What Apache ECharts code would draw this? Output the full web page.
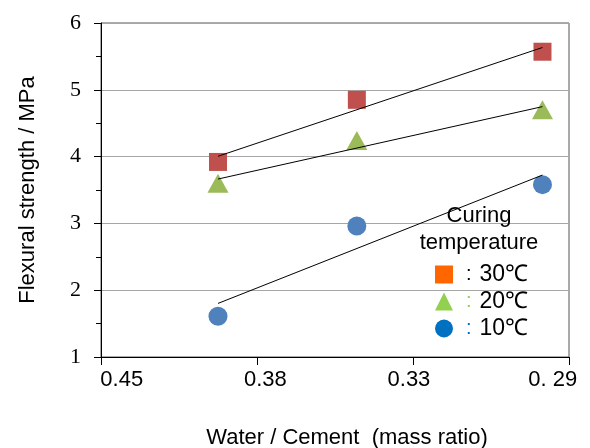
<!DOCTYPE html>
<html>
<head>
<meta charset="utf-8">
<script src="https://cdn.jsdelivr.net/npm/echarts@6/dist/echarts.min.js"></script>
<style>html,body{margin:0;padding:0;background:#fff}#c{width:590px;height:448px}</style>
</head>
<body>
<div id="c"></div>
<script>
// Data
const xTickLabels = ['0.45', '0.38', '0.33', '0. 29'];
const xPos = [0.75, 1.64, 2.83];          // position of the three mixes on the axis (tick units)
const temps = ['30℃', '20℃', '10℃'];
const strength30 = [3.92, 4.85, 5.57];
const strength20 = [3.60, 4.24, 4.70];
const strength10 = [1.61, 2.96, 3.58];

const labelPos = [0.133, 1.054, 1.974, 2.896];
const SANS = 'Liberation Sans, Arial, sans-serif';

function fit(xs, ys) {
  const n = xs.length;
  const mx = xs.reduce((a, b) => a + b, 0) / n;
  const my = ys.reduce((a, b) => a + b, 0) / n;
  let sxy = 0, sxx = 0;
  for (let i = 0; i < n; i++) { sxy += (xs[i] - mx) * (ys[i] - my); sxx += (xs[i] - mx) ** 2; }
  const b = sxy / sxx, a = my - b * mx;
  const x0 = Math.min(...xs), x1 = Math.max(...xs);
  return [[x0, a + b * x0], [x1, a + b * x1]];
}
const pts = ys => xPos.map((x, i) => [x, ys[i]]);

const chart = echarts.init(document.getElementById('c'), null, { renderer: 'canvas' });
const markerSeries = [
  { name: temps[0], symbol: 'rect', symbolSize: 18, color: '#C0504D', data: strength30 },
  { name: temps[1], symbol: 'triangle', symbolSize: [21, 19], color: '#9BBB59', data: strength20 },
  { name: temps[2], symbol: 'circle', symbolSize: 19, color: '#4F81BD', data: strength10 }
];
const series = [];
markerSeries.forEach(s => {
  series.push({
    type: 'scatter', name: s.name, symbol: s.symbol, symbolSize: s.symbolSize,
    itemStyle: { color: s.color, opacity: 1 }, data: pts(s.data), z: 2, silent: true
  });
});
markerSeries.forEach((s, i) => {
  series.push({
    type: 'line', name: 'trend' + i, data: fit(xPos, s.data), showSymbol: false, symbol: 'none',
    lineStyle: { color: '#000', width: 1 }, z: 3, silent: true, animation: false
  });
});

const legendColors = ['#FF6600', '#92D050', '#0070C0'];
const colonColors = ['#000', '#92D050', '#0070C0'];
const legendIcons = ['rect', 'triangle', 'circle'];

chart.setOption({
  animation: false,
  backgroundColor: '#fff',
  grid: { left: 101, right: 21, top: 23, bottom: 91, containLabel: false, outerBoundsMode: 'none',
    show: true, borderColor: '#555', borderWidth: 1, backgroundColor: 'transparent' },
  xAxis: {
    type: 'value', min: 0, max: 3, interval: 1,
    name: 'Water / Cement  (mass ratio)', nameLocation: 'middle', nameGap: 70,
    nameTextStyle: { fontFamily: SANS, fontSize: 22, color: '#000', padding: [0, 0, 0, 24] },
    axisLine: { show: true, lineStyle: { color: '#000', width: 1 } },
    axisTick: { show: true, inside: false, length: 8, lineStyle: { color: '#000' } },
    axisLabel: {
      show: true, margin: 12, fontFamily: SANS, fontSize: 22, color: '#000',
      customValues: labelPos,
      formatter: function (v) {
        let best = 0;
        labelPos.forEach((p, i) => { if (Math.abs(p - v) < Math.abs(labelPos[best] - v)) best = i; });
        return xTickLabels[best];
      }
    },
    splitLine: { show: false }
  },
  yAxis: {
    type: 'value', min: 1, max: 6, interval: 1,
    name: 'Flexural strength / MPa', nameLocation: 'middle', nameGap: 62,
    nameTextStyle: { fontFamily: SANS, fontSize: 22, color: '#000' },
    axisLine: { show: true, lineStyle: { color: '#000', width: 1 } },
    axisTick: { show: true, inside: false, length: 7, lineStyle: { color: '#000' } },
    minorTick: { show: true, splitNumber: 2, length: 5, lineStyle: { color: '#000' } },
    axisLabel: { margin: 20, fontFamily: 'Liberation Serif, Times New Roman, serif', fontSize: 22, color: '#000' },
    splitLine: { show: true, lineStyle: { color: '#A6A6A6', width: 1 } }
  },
  legend: {
    orient: 'vertical', left: 430, top: 258, itemGap: 4, itemWidth: 18, itemHeight: 18,
    selectedMode: false,
    data: temps.map((t, i) => ({ name: t, icon: legendIcons[i], itemStyle: { color: legendColors[i] } })),
    formatter: function (name) {
      const i = temps.indexOf(name);
      return '{c' + i + '|:}{t|' + name + '}';
    },
    textStyle: {
      fontFamily: SANS, fontSize: 22, color: '#000', lineHeight: 22,
      rich: {
        c0: { color: colonColors[0], fontFamily: SANS, fontSize: 20, padding: [0, 8, 0, 8] },
        c1: { color: colonColors[1], fontFamily: SANS, fontSize: 20, padding: [0, 8, 0, 8] },
        c2: { color: colonColors[2], fontFamily: SANS, fontSize: 20, padding: [0, 8, 0, 8] },
        t: { color: '#000', fontFamily: SANS, fontSize: 23 }
      }
    }
  },
  graphic: [{
    type: 'text', x: 479, y: 229, silent: true, z: 10,
    style: { text: 'Curing\ntemperature', align: 'center', verticalAlign: 'middle', fill: '#000',
      font: '22px Liberation Sans, Arial, sans-serif', lineHeight: 27 }
  }],
  series: series
});
</script>
</body>
</html>
